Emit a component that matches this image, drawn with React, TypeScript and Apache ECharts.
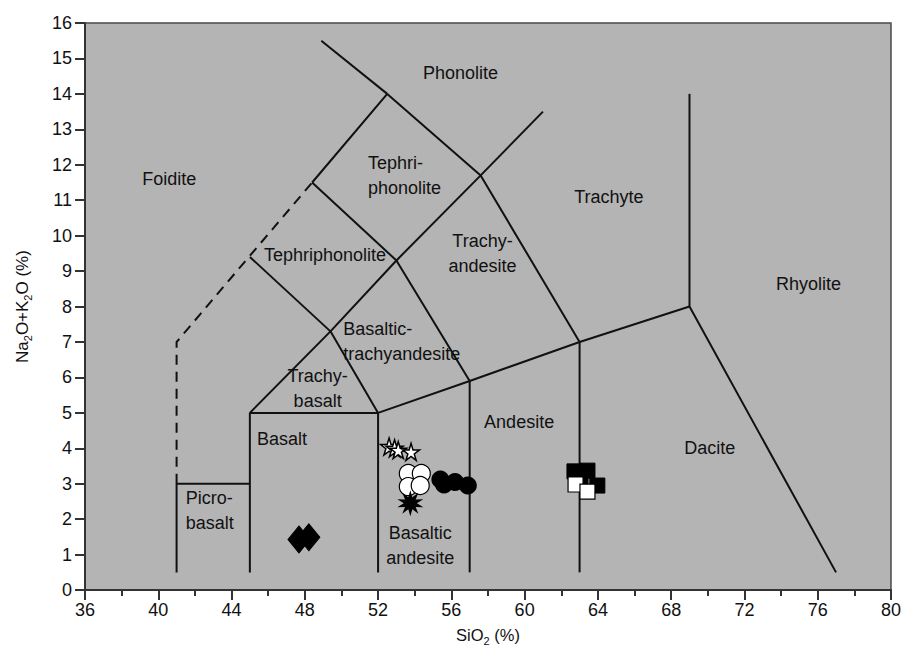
import React, { useEffect, useRef } from "react";
import * as echarts from "echarts";

const FONT = "'Liberation Sans', Arial, Helvetica, sans-serif";

// Axis ranges / ticks
const xRange = [36, 80];
const xInterval = 4;
const yRange = [0, 16];
const yInterval = 1;

// TAS field boundaries (SiO2, Na2O+K2O)
const picroBasaltLine = [[41, 0.5], [41, 3], [45, 3]];
const basaltLeftLine = [[45, 0.5], [45, 5], [52, 5]];
const basaltRightLine = [[52, 0.5], [52, 5], [57, 5.9], [63, 7], [69, 8], [77, 0.5]];
const andesiteLeftLine = [[57, 0.5], [57, 5.9]];
const daciteLeftLine = [[63, 0.5], [63, 7]];
const trachybasaltTopLine = [[45, 5], [49.4, 7.3], [52, 5]];
const btaTopLine = [[49.4, 7.3], [53, 9.3], [57, 5.9]];
const tephriteTopLine = [[45, 9.4], [49.4, 7.3]];
const phonotephriteTopLine = [[48.4, 11.5], [53, 9.3], [57.6, 11.7], [63, 7]];
const tephriphonoliteTopLine = [[48.4, 11.5], [52.5, 14], [57.6, 11.7]];
const phonoliteLine = [[48.9, 15.5], [52.5, 14]];
const trachyteLine = [[57.6, 11.7], [61, 13.5]];
const rhyoliteLine = [[69, 8], [69, 14]];
const foiditeDashedLine = [[41, 3], [41, 7], [48.4, 11.5]];

const solidLines = [
  picroBasaltLine, basaltLeftLine, basaltRightLine, andesiteLeftLine, daciteLeftLine,
  trachybasaltTopLine, btaTopLine, tephriteTopLine, phonotephriteTopLine,
  tephriphonoliteTopLine, phonoliteLine, trachyteLine, rhyoliteLine,
];

// Field names
const fieldNames = [
  "Phonolite", "Foidite", "Tephri-\nphonolite", "Trachyte", "Tephriphonolite",
  "Trachy-\nandesite", "Rhyolite", "Basaltic-\ntrachyandesite", "Trachy-\nbasalt",
  "Andesite", "Basalt", "Dacite", "Picro-\nbasalt", "Basaltic\nandesite",
];
const fieldLabelPoints = [
  [56.5, 14.6], [40.6, 11.6], [51.45, 11.7], [64.6, 11.1], [49.1, 9.45],
  [57.7, 9.5], [75.5, 8.63], [50.1, 7.0], [48.7, 5.68],
  [59.7, 4.75], [46.75, 4.27], [70.1, 4.0], [41.5, 2.25], [54.3, 1.27],
];
const fieldLabelAlign = [
  "center", "center", "left", "center", "center",
  "center", "center", "left", "center",
  "center", "center", "center", "left", "center",
];

// Samples
const starSamples = [[52.6, 4.05], [52.9, 4.0], [53.1, 3.95], [53.8, 3.9]];
const openCircleSamples = [[53.65, 3.29], [54.36, 3.29], [53.65, 2.92], [54.3, 2.95]];
const burstSamples = [[53.76, 2.45]];
const blackCircleSamples = [[55.4, 3.12], [55.6, 2.98], [56.2, 3.05], [56.9, 2.95]];
const blackSquareSamples = [[62.72, 3.35], [63.43, 3.37], [63.05, 3.15], [63.97, 2.95]];
const whiteSquareSamples = [[62.78, 2.98], [63.43, 2.78]];
const diamondSamples = [[47.68, 1.43], [48.22, 1.49]];

const STAR_PATH =
  "path://M50,0 L61,35 L98,35 L68,57 L79,91 L50,70 L21,91 L32,57 L2,35 L39,35 Z";
const BURST_PATH =
  "path://M50,0 L57.4,27.2 L79.4,9.5 L69.4,35.9 L97.6,34.5 L74,50 L97.6,65.5 L69.4,64.1 L79.4,90.5 L57.4,72.8 L50,100 L42.6,72.8 L20.6,90.5 L30.6,64.1 L2.4,65.5 L26,50 L2.4,34.5 L30.6,35.9 L20.6,9.5 L42.6,27.2 Z";

const LINE_COLOR = "#111";
const TEXT_COLOR = "#111";

export default function App() {
  const ref = useRef<HTMLDivElement>(null);
  useEffect(() => {
    if (!ref.current) return;
    const chart = echarts.init(ref.current, undefined, { renderer: "svg" });

    const lineSeries: any[] = solidLines.map((pts) => ({
      type: "line",
      data: pts,
      symbol: "none",
      silent: true,
      lineStyle: { color: LINE_COLOR, width: 2 },
      z: 2,
    }));
    lineSeries.push({
      type: "line",
      data: foiditeDashedLine,
      symbol: "none",
      silent: true,
      lineStyle: { color: LINE_COLOR, width: 2, type: [10, 7] },
      z: 2,
    });

    const labelSeries = {
      type: "scatter",
      symbol: "circle",
      symbolSize: 1,
      silent: true,
      itemStyle: { color: "rgba(0,0,0,0)", opacity: 1 },
      label: {
        show: true,
        position: "inside",
        formatter: "{b}",
        fontSize: 18,
        lineHeight: 25,
        color: TEXT_COLOR,
        opacity: 1,
        fontFamily: FONT,
        align: "center",
        verticalAlign: "middle",
      },
      data: fieldNames.map((n, i) => ({
        name: n,
        value: fieldLabelPoints[i],
        label: { align: fieldLabelAlign[i] },
      })),
      z: 3,
    };

    const markerBase = { type: "scatter", silent: true, z: 4 };
    const nameStyle = (size: number) => ({
      fontSize: size,
      color: TEXT_COLOR,
      fontFamily: FONT,
      lineHeight: 22,
      rich: { sub: { fontSize: Math.round(size * 0.66), lineHeight: 11, verticalAlign: "bottom", fontFamily: FONT, color: TEXT_COLOR } },
    });
    const option: any = {
      animation: false,
      backgroundColor: "#ffffff",
      grid: {
        left: 85,
        right: 9,
        top: 23,
        bottom: 59,
        show: true,
        backgroundColor: "#b4b4b4",
        borderColor: "#4a4a4a",
        borderWidth: 1.5,
      },
      xAxis: {
        type: "value",
        min: xRange[0],
        max: xRange[1],
        interval: xInterval,
        axisLine: { show: true, onZero: false, lineStyle: { color: "#333", width: 2 } },
        axisTick: { show: true, inside: false, length: 10, lineStyle: { color: "#333", width: 2 } },
        minorTick: { show: true, splitNumber: 2, length: 6, lineStyle: { color: "#333", width: 2 } },
        splitLine: { show: false },
        axisLabel: { fontSize: 18, color: TEXT_COLOR, margin: 11, fontFamily: FONT },
        name: "SiO{sub|2} (%)",
        nameLocation: "middle",
        nameGap: 33,
        nameTextStyle: nameStyle(16.5),
      },
      yAxis: {
        type: "value",
        min: yRange[0],
        max: yRange[1],
        interval: yInterval,
        axisLine: { show: true, onZero: false, lineStyle: { color: "#333", width: 2 } },
        axisTick: { show: true, inside: false, length: 10, lineStyle: { color: "#333", width: 2 } },
        splitLine: { show: false },
        axisLabel: { fontSize: 18, color: TEXT_COLOR, margin: 13, fontFamily: FONT },
        name: "Na{sub|2}O+K{sub|2}O (%)",
        nameLocation: "middle",
        nameGap: 52,
        nameTextStyle: nameStyle(17),
      },
      series: [
        ...lineSeries,
        labelSeries,
        {
          ...markerBase,
          data: diamondSamples,
          symbol: "diamond",
          symbolSize: [22, 27],
          itemStyle: { color: "#000", borderColor: "#000", borderWidth: 1, opacity: 1 },
        },
        {
          ...markerBase,
          data: starSamples,
          symbol: STAR_PATH,
          symbolSize: 17,
          itemStyle: { color: "#fff", borderColor: "#000", borderWidth: 1.5, opacity: 1 },
        },
        {
          ...markerBase,
          data: openCircleSamples,
          symbol: "circle",
          symbolSize: 18,
          itemStyle: { color: "#fff", borderColor: "#000", borderWidth: 1.2, opacity: 1 },
        },
        {
          ...markerBase,
          data: burstSamples,
          symbol: BURST_PATH,
          symbolSize: 26,
          itemStyle: { color: "#000", opacity: 1 },
        },
        {
          ...markerBase,
          data: blackCircleSamples,
          symbol: "circle",
          symbolSize: 18,
          itemStyle: { color: "#000", opacity: 1 },
        },
        {
          ...markerBase,
          data: blackSquareSamples,
          symbol: "rect",
          symbolSize: 15,
          itemStyle: { color: "#000", borderColor: "#000", borderWidth: 1, opacity: 1 },
        },
        {
          ...markerBase,
          data: whiteSquareSamples,
          symbol: "rect",
          symbolSize: 15,
          itemStyle: { color: "#fff", borderColor: "#000", borderWidth: 1.2, opacity: 1 },
          z: 5,
        },
      ],
    };
    chart.setOption(option);
    return () => chart.dispose();
  }, []);

  return (
    <div
      ref={ref}
      style={{ position: "fixed", left: 0, top: 0, width: 904, height: 651, background: "#fff" }}
    />
  );
}
